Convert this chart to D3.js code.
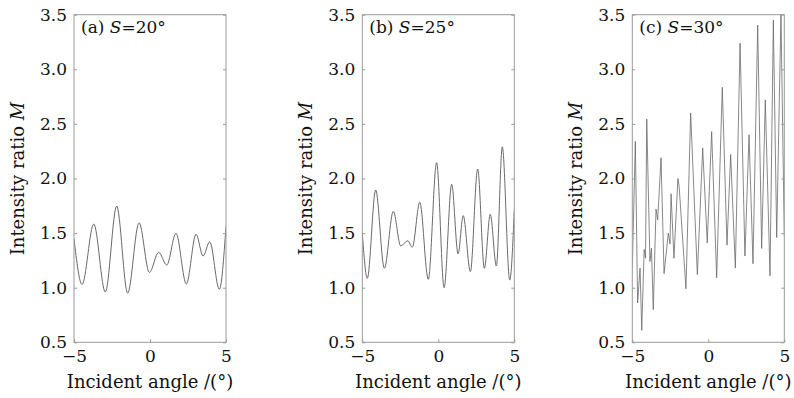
<!DOCTYPE html>
<html>
<head>
<meta charset="utf-8">
<script src="https://cdn.jsdelivr.net/npm/d3@7"></script>
<style>
  body { margin: 0; background: #fff; }
  text { font-family: "DejaVu Serif", serif; fill: #111; }
</style>
</head>
<body>
<div id="chart"></div>
<script>
// values (turning points of each curve)
var anglesA = [-5, -4.47, -3.70, -2.94, -2.19, -1.47, -0.72, -0.04, 0.57, 1.10, 1.71, 2.39, 3.03, 3.49, 3.93, 4.56, 5.0];
var ratioA = [1.45, 1.03, 1.583, 0.96, 1.748, 0.95, 1.595, 1.14, 1.324, 1.208, 1.498, 1.034, 1.49, 1.29, 1.42, 0.985, 1.56];

var anglesB = [-5, -4.67, -4.12, -3.55, -2.96, -2.47, -2.01, -1.71, -1.22, -0.66, -0.11, 0.38, 0.88, 1.30, 1.64, 2.11, 2.59, 3.03, 3.42, 3.82, 4.21, 4.70, 5.0];
var ratioB = [1.50, 1.086, 1.895, 1.178, 1.70, 1.382, 1.43, 1.37, 1.782, 1.077, 2.145, 1.0, 1.947, 1.309, 1.66, 1.147, 2.087, 1.178, 1.672, 1.199, 2.29, 1.07, 1.71];

var anglesC = [-5, -4.80, -4.65, -4.49, -4.38, -4.22, -4.13, -4.05, -3.84, -3.74, -3.62, -3.44, -3.33, -3.11, -2.91, -2.63, -2.52, -2.45, -2.26, -2.00, -1.92, -1.47, -1.16, -0.72, -0.37, -0.07, 0.22, 0.55, 0.92, 1.23, 1.47, 1.78, 2.09, 2.41, 2.68, 2.94, 3.25, 3.51, 3.75, 4.06, 4.28, 4.50, 4.78, 5.0];
var ratioC = [1.18, 2.34, 0.86, 1.18, 0.61, 1.35, 1.27, 2.545, 1.24, 1.36, 0.80, 1.72, 1.62, 2.19, 1.13, 1.50, 1.40, 1.86, 1.27, 2.00, 1.93, 0.99, 2.60, 1.12, 2.28, 1.41, 2.43, 1.09, 2.835, 1.39, 2.22, 1.18, 3.24, 1.29, 2.40, 1.22, 3.405, 1.36, 2.72, 1.11, 3.45, 1.46, 3.50, 1.47];

var panelLabels = ["(a) ", "(b) ", "(c) "];
var panelAngles = ["20°", "25°", "30°"];
var yTicks = [0.5, 1.0, 1.5, 2.0, 2.5, 3.0, 3.5];
var xTicks = [-5, 0, 5];

var width = 794, height = 398;
var plotTop = 14.7, plotBottom = 342.3, plotW = 152;
var lefts = [74, 362.3, 632.3];

var svg = d3.select("#chart").append("svg")
  .attr("width", width)
  .attr("height", height);

var y = d3.scaleLinear().domain([0.5, 3.5]).range([plotBottom, plotTop]);

var panels = [
  { x: anglesA, v: ratioA, curve: d3.curveMonotoneX, w: 1 },
  { x: anglesB, v: ratioB, curve: d3.curveMonotoneX, w: 1 },
  { x: anglesC, v: ratioC, curve: d3.curveLinear, w: 0.8 }
];

panels.forEach(function (p, i) {
  var left = lefts[i];
  var x = d3.scaleLinear().domain([-5, 5]).range([left, left + plotW]);
  var g = svg.append("g");

  g.append("clipPath").attr("id", "clip" + i)
    .append("rect")
    .attr("x", left).attr("y", plotTop)
    .attr("width", plotW).attr("height", plotBottom - plotTop);

  //------- CURVE -------
  var pts = p.x.map(function (a, k) { return [a, p.v[k]]; });
  var line = d3.line()
    .x(function (d) { return x(d[0]); })
    .y(function (d) { return y(d[1]); })
    .curve(p.curve);

  g.append("path")
    .datum(pts)
    .attr("clip-path", "url(#clip" + i + ")")
    .attr("d", line)
    .attr("fill", "none")
    .attr("stroke", "#6a6a6a")
    .attr("stroke-width", p.w);

  //------- FRAME + TICKS -------
  g.append("rect")
    .attr("x", left).attr("y", plotTop)
    .attr("width", plotW).attr("height", plotBottom - plotTop)
    .attr("fill", "none")
    .attr("stroke", "#9a9a9a")
    .attr("stroke-width", 1);

  var yAxisL = d3.axisLeft(y).tickValues(yTicks).tickSizeInner(-3).tickSizeOuter(0)
    .tickPadding(7).tickFormat(d3.format(".1f"));
  var gl = g.append("g").attr("transform", "translate(" + left + ",0)").call(yAxisL);
  gl.select(".domain").remove();
  gl.selectAll("line").attr("stroke", "#9a9a9a");
  gl.selectAll("text").attr("font-size", 17).attr("font-family", "DejaVu Serif").attr("fill", "#111");

  var yAxisR = d3.axisRight(y).tickValues(yTicks).tickSizeInner(-3).tickSizeOuter(0).tickFormat("");
  var gr = g.append("g").attr("transform", "translate(" + (left + plotW) + ",0)").call(yAxisR);
  gr.select(".domain").remove();
  gr.selectAll("line").attr("stroke", "#9a9a9a");

  var xAxis = d3.axisBottom(x).tickValues(xTicks).tickSizeInner(-3).tickSizeOuter(0)
    .tickPadding(8).tickFormat(function (d) { return d < 0 ? "\u2212" + Math.abs(d) : d; });
  var gx = g.append("g").attr("transform", "translate(0," + plotBottom + ")").call(xAxis);
  gx.select(".domain").remove();
  gx.selectAll("line").attr("stroke", "#9a9a9a");
  gx.selectAll("text").attr("font-size", 17).attr("font-family", "DejaVu Serif").attr("fill", "#111");

  //------- TITLES -------
  g.append("text")
    .attr("x", left + plotW / 2)
    .attr("y", 388)
    .attr("text-anchor", "middle")
    .attr("font-size", 18)
    .text("Incident angle /(°)");

  var yt = g.append("text")
    .attr("transform", "translate(" + (left - 50) + "," + ((plotTop + plotBottom) / 2) + ") rotate(-90)")
    .attr("text-anchor", "middle")
    .attr("font-size", 18);
  yt.append("tspan").text("Intensity ratio ");
  yt.append("tspan").attr("font-style", "italic").text("M");

  var lab = g.append("text")
    .attr("x", left + 7)
    .attr("y", 33)
    .attr("font-size", 17);
  lab.append("tspan").text(panelLabels[i]);
  lab.append("tspan").attr("font-style", "italic").text("S");
  lab.append("tspan").text("=" + panelAngles[i]);
});
</script>
</body>
</html>
